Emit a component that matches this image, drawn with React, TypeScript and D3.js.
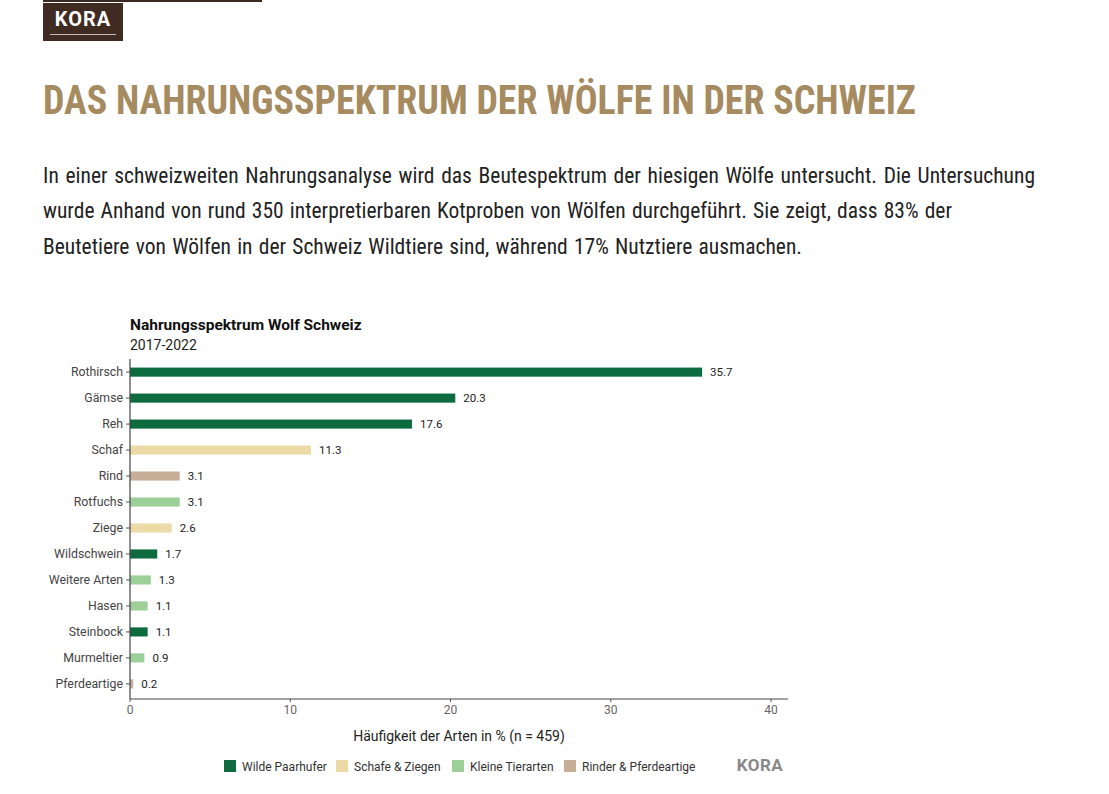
import React from "react";
import * as d3 from "d3";

const categories = ["Rothirsch","Gämse","Reh","Schaf","Rind","Rotfuchs","Ziege","Wildschwein","Weitere Arten","Hasen","Steinbock","Murmeltier","Pferdeartige"];
const values = [35.7,20.3,17.6,11.3,3.1,3.1,2.6,1.7,1.3,1.1,1.1,0.9,0.2];
const groups = ["Wilde Paarhufer","Wilde Paarhufer","Wilde Paarhufer","Schafe & Ziegen","Rinder & Pferdeartige","Kleine Tierarten","Schafe & Ziegen","Wilde Paarhufer","Kleine Tierarten","Kleine Tierarten","Wilde Paarhufer","Kleine Tierarten","Rinder & Pferdeartige"];
const legendNames = ["Wilde Paarhufer","Schafe & Ziegen","Kleine Tierarten","Rinder & Pferdeartige"];
const legendColors = ["#0d6b3f","#ecdba6","#9dcf98","#c6ae98"];
const xTicks = [0,10,20,30,40];

const paragraph = [
  "In einer schweizweiten Nahrungsanalyse wird das Beutespektrum der hiesigen Wölfe untersucht. Die Untersuchung",
  "wurde Anhand von rund 350 interpretierbaren Kotproben von Wölfen durchgeführt. Sie zeigt, dass 83% der",
  "Beutetiere von Wölfen in der Schweiz Wildtiere sind, während 17% Nutztiere ausmachen.",
];
const paraWidths = [992, 909, 759];

const cond = "'Roboto Condensed', Roboto, sans-serif";
const paraSize = 21.5;

function wordSpacingFor(text: string, target: number): number {
  try {
    const c = document.createElement("canvas").getContext("2d");
    if (!c) return 0;
    c.font = `${paraSize}px ${cond}`;
    const w = c.measureText(text).width;
    const spaces = text.split(" ").length - 1;
    const ws = spaces > 0 ? (target - w) / spaces : 0;
    return Math.max(-2, Math.min(3, ws));
  } catch (e) {
    return 0;
  }
}

export default function App() {
  const x = d3.scaleLinear().domain([0, 40]).range([130, 771]);
  const y = d3.scaleBand().domain(categories).range([359, 697]).paddingInner(0.65).paddingOuter(0.33);
  const color = d3.scaleOrdinal<string, string>().domain(legendNames).range(legendColors);
  const legendX = [224, 336, 452, 564];
  const font = "Roboto, 'Noto Sans', sans-serif";
  return (
    <svg width={1109} height={794} style={{ position: "absolute", left: 0, top: 0, background: "#fff" }} fontFamily={font}>
      <rect x={43} y={0} width={219} height={2} fill="#3b2a20" />
      <rect x={43} y={3} width={80} height={38} fill="#3f2b22" />
      <text x={83} y={26} textAnchor="middle" fill="#fff" fontSize={20} fontWeight={700} letterSpacing={1}>KORA</text>
      <rect x={50} y={34} width={66} height={1} fill="#bbb" />
      <text x={43} y={114} fill="#a58b5f" fontFamily={cond} fontSize={41} fontWeight={700} textLength={873} lengthAdjust="spacingAndGlyphs">DAS NAHRUNGSSPEKTRUM DER WÖLFE IN DER SCHWEIZ</text>
      {paragraph.map((t, i) => (
        <text key={i} x={43} y={182.5 + i * 35.5} fill="#222" fontFamily={cond} fontSize={paraSize} style={{ wordSpacing: `${wordSpacingFor(t, paraWidths[i])}px` }}>{t}</text>
      ))}
      <text x={130} y={330} fill="#111" fontSize={15.5} fontWeight={700}>Nahrungsspektrum Wolf Schweiz</text>
      <text x={130} y={350} fill="#222" fontSize={14}>2017-2022</text>
      {categories.map((c, i) => {
        const yy = y(c)!;
        const cy = yy + y.bandwidth() / 2;
        return (
          <g key={c}>
            <rect x={x(0)} y={yy} width={x(values[i]) - x(0)} height={y.bandwidth()} fill={color(groups[i])} />
            <text x={x(values[i]) + 8} y={cy + 4} fontSize={11.5} fill="#222">{values[i].toFixed(1)}</text>
            <line x1={126} x2={130} y1={cy} y2={cy} stroke="#555" />
            <text x={123} y={cy + 4} textAnchor="end" fontSize={12.3} fill="#444">{c}</text>
          </g>
        );
      })}
      <line x1={130} x2={130} y1={359} y2={699} stroke="#444" strokeWidth={1.2} />
      <line x1={130} x2={788} y1={699} y2={699} stroke="#444" strokeWidth={1.2} />
      {xTicks.map((t) => (
        <g key={t}>
          <line x1={x(t)} x2={x(t)} y1={699} y2={702} stroke="#555" />
          <text x={x(t)} y={714} textAnchor="middle" fontSize={12} fill="#666">{t}</text>
        </g>
      ))}
      <text x={459} y={741} textAnchor="middle" fontSize={14} fill="#222">Häufigkeit der Arten in % (n = 459)</text>
      {legendNames.map((n, i) => (
        <g key={n}>
          <rect x={legendX[i]} y={760} width={12} height={12} fill={legendColors[i]} />
          <text x={legendX[i] + 18} y={770.5} fontSize={12} fill="#333">{n}</text>
        </g>
      ))}
      <text x={760} y={771} textAnchor="middle" fontSize={17} fontWeight={700} fill="#888" letterSpacing={0.5}>KORA</text>
    </svg>
  );
}
